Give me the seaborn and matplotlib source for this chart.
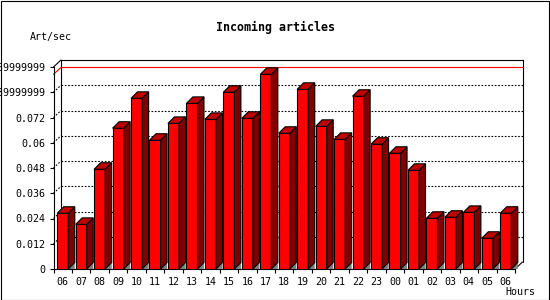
import matplotlib
matplotlib.use("Agg")
import matplotlib.pyplot as plt
import seaborn as sns
import pandas as pd
import numpy as np
from matplotlib.patches import Polygon, Rectangle

hours = ["06", "07", "08", "09", "10", "11", "12", "13", "14", "15", "16", "17",
         "18", "19", "20", "21", "22", "23", "00", "01", "02", "03", "04", "05", "06"]
rates = [0.0265, 0.0212, 0.0474, 0.0669, 0.0811, 0.0612, 0.0692, 0.0787, 0.0711,
         0.0840, 0.0716, 0.0925, 0.0645, 0.0854, 0.0678, 0.0616, 0.0821, 0.0593,
         0.0550, 0.0469, 0.0241, 0.0246, 0.0269, 0.0146, 0.0265]
ytick_values = [0, 0.012, 0.024, 0.036, 0.048, 0.06, 0.072, 0.084, 0.096]
ytick_labels = ["0", "0.012", "0.024", "0.036", "0.048", "0.06", "0.072",
                "0.0839999999", "0.0959999999"]
title = "Incoming articles"
ylabel = "Art/sec"
xlabel = "Hours"

sns.set_theme(style="white")
plt.rcParams['font.family'] = ['DejaVu Sans Mono', 'DejaVu Sans']

W, H = 550, 300
fig = plt.figure(figsize=(5.5, 3), dpi=100)
fig.patch.set_facecolor("white")
ax = fig.add_axes([53.5 / W, 31 / H, 461.5 / W, 202 / H])
ax.set_facecolor("white")

df = pd.DataFrame({"pos": list(range(len(hours))), "rate": rates})
sns.barplot(data=df, x="pos", y="rate", color="#ff0000", saturation=1,
            width=0.6, edgecolor="black", linewidth=0.8, ax=ax, zorder=3)

n = len(hours)
ax.set_xlim(-0.5, n - 0.5)
ax.set_ylim(0, ytick_values[-1])

# pixel -> data conversions for the pseudo-3D depth
p0 = ax.transData.transform((0, 0))
p1 = ax.transData.transform((1, 1))
sx, sy = p1[0] - p0[0], p1[1] - p0[1]
ddx, ddy = 6.5 / sx, 6.5 / sy      # bar depth
bdx, bdy = 7.5 / sx, 7.0 / sy      # back plane offset

hw = 0.3
for i, v in enumerate(rates):
    xl, xr = i - hw, i + hw
    ax.add_patch(Polygon([(xr, 0), (xr + ddx, ddy), (xr + ddx, 0)], closed=True,
                         facecolor="#808080", edgecolor="none", zorder=2.9, clip_on=False))
    ax.add_patch(Polygon([(xr, 0), (xr + ddx, ddy), (xr + ddx, v + ddy), (xr, v)], closed=True,
                         facecolor="#800000", edgecolor="black", lw=0.8, zorder=3.1, clip_on=False))
    ax.add_patch(Polygon([(xl, v), (xl + ddx, v + ddy), (xr + ddx, v + ddy), (xr, v)], closed=True,
                         facecolor="#c00000", edgecolor="black", lw=0.8, zorder=3.1, clip_on=False))

# back plane
xb0, xb1 = -0.5 + bdx, n - 0.5 + bdx
ytop = ytick_values[-1]
kw = dict(color="black", lw=0.8, clip_on=False, zorder=1)
ax.plot([xb0, xb1], [ytop + bdy, ytop + bdy], **kw)
ax.plot([xb1, xb1], [bdy, ytop + bdy], **kw)
ax.plot([xb0, xb0], [bdy, ytop + bdy], **kw)
ax.plot([-0.5, xb0], [ytop, ytop + bdy], **kw)
ax.plot([n - 0.5, xb1], [0, bdy], **kw)
for t in ytick_values[1:-1]:
    ax.plot([xb0, xb1], [t + bdy, t + bdy], color="black", lw=0.8,
            linestyle=(0, (1.5, 1.5)), clip_on=False, zorder=1)
    ax.plot([-0.5, xb0], [t, t + bdy], color="black", lw=0.8,
            linestyle=(0, (1.5, 1.5)), clip_on=False, zorder=1)
# max line
m = max(rates)
ax.plot([xb0, xb1], [m + bdy, m + bdy], color="#ff0000", lw=0.8, clip_on=False, zorder=1.2)
ax.plot([-0.5, xb0], [m, m + bdy], color="#ff0000", lw=0.8, clip_on=False, zorder=1.2)

# axes / ticks
for s in ["top", "right"]:
    ax.spines[s].set_visible(False)
for s in ["left", "bottom"]:
    ax.spines[s].set_color("black")
    ax.spines[s].set_linewidth(0.8)

ax.set_yticks(ytick_values)
ax.set_yticklabels(ytick_labels)
ax.set_xticks(range(n))
ax.set_xticklabels(hours)
ax.set_xticks(np.arange(-0.5, n, 1.0), minor=True)
ax.tick_params(axis="y", which="major", left=True, direction="out", length=2.9,
               width=0.8, pad=2.9, labelsize=7.2, colors="black")
ax.tick_params(axis="x", which="major", bottom=True, length=0, pad=5.5,
               labelsize=7.2, colors="black")
ax.tick_params(axis="x", which="minor", bottom=True, direction="out", length=2.9,
               width=0.8, colors="black")
ax.set_xlabel("")
ax.set_ylabel("")

fig.text(275 / W, 1 - 27 / H, title, ha="center", va="center", fontsize=8.4,
         fontweight="bold", color="black")
fig.text(30 / W, 1 - 37 / H, ylabel, ha="left", va="center", fontsize=7.2, color="black")
fig.text(505 / W, 1 - 292 / H, xlabel, ha="left", va="center", fontsize=7.2, color="black")

fig.add_artist(Rectangle((0.5 / W, 0.5 / H), 1 - 1.5 / W, 1 - 1.5 / H,
                         transform=fig.transFigure, fill=False, ec="black", lw=0.8))

fig.savefig("out.png", dpi=100, facecolor="white")
